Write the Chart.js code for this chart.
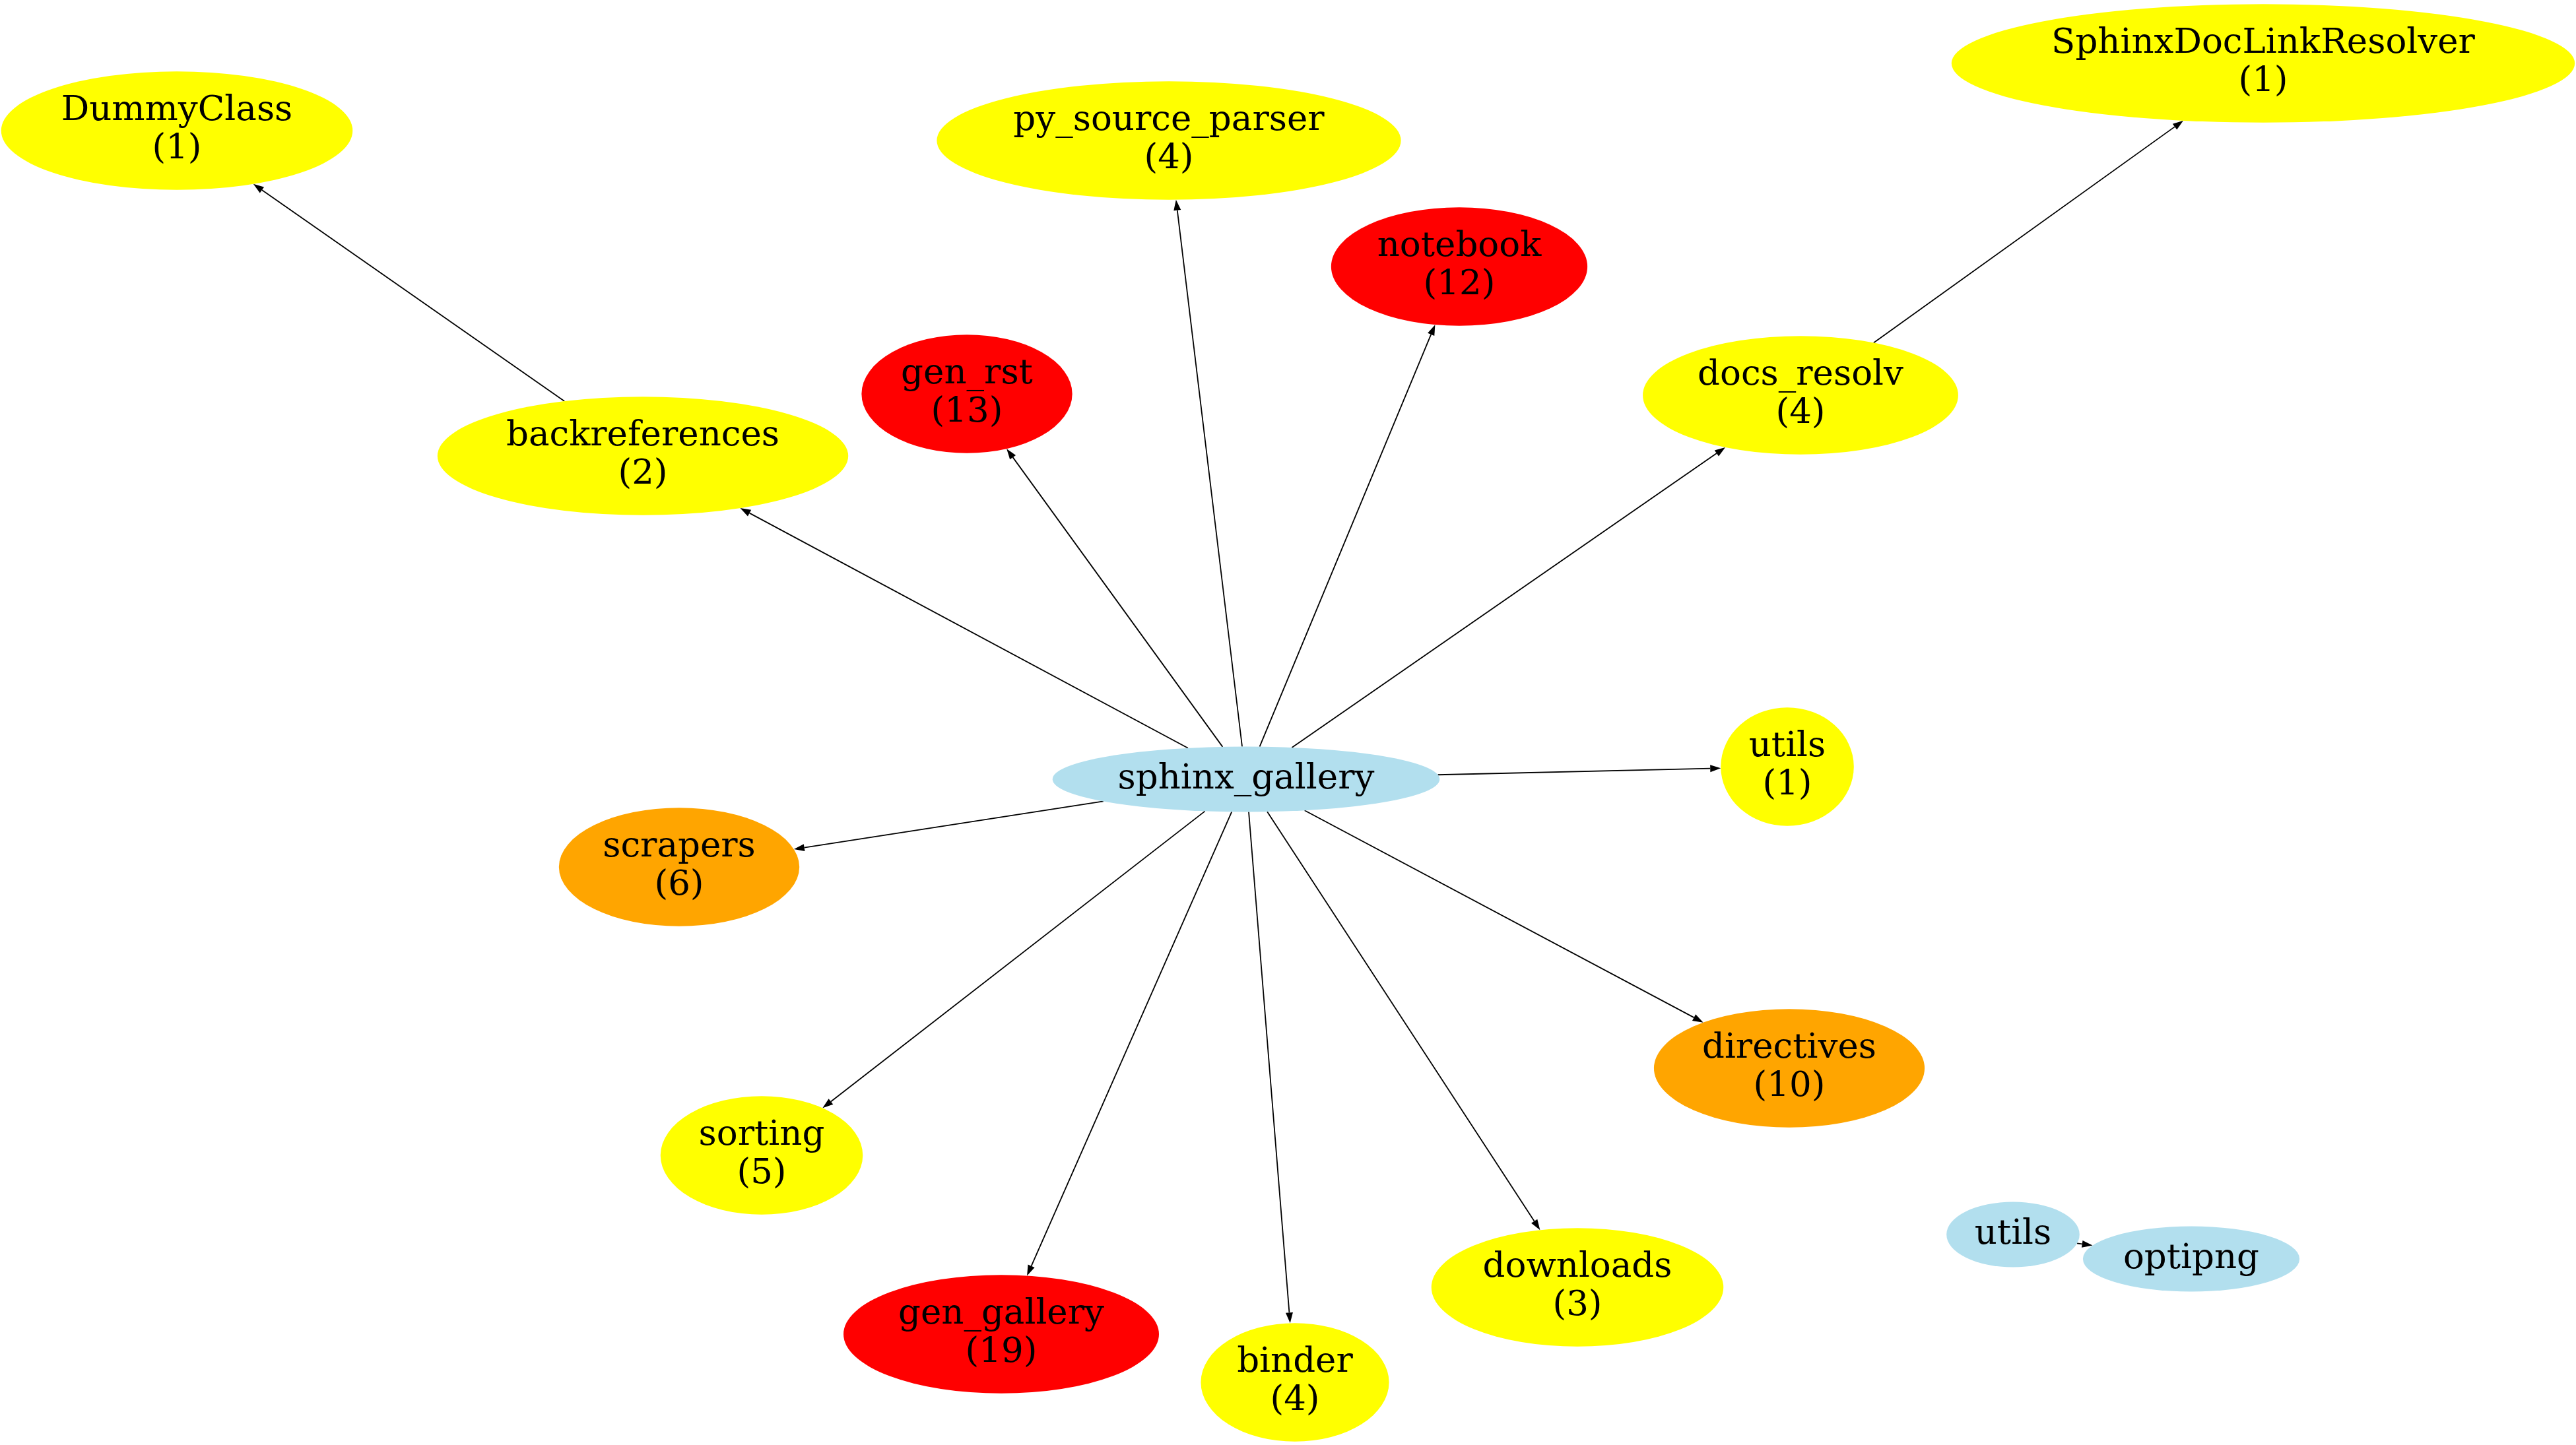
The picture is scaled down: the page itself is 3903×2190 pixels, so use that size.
<!DOCTYPE html>
<html lang="en">
<head>
  <meta charset="UTF-8" />
  <title>sphinx_gallery - module graph</title>
  <script src="https://cdn.jsdelivr.net/npm/chart.js"></script>
  <style>
    html, body { margin: 0; padding: 0; background: #ffffff; overflow: hidden; }
    #grafo { display: block; }
  </style>
</head>
<body>

  <canvas id="grafo" width="3903" height="2190"></canvas>

  <script>
    // nodes of the graph (layout coordinates)
    const nodeIds = ['sphinx_gallery', 'DummyClass', 'py_source_parser', 'notebook', 'gen_rst',
      'SphinxDocLinkResolver', 'docs_resolv', 'backreferences', 'utils_1', 'scrapers',
      'directives', 'sorting', 'gen_gallery', 'binder', 'downloads', 'utils', 'optipng'];
    const nodeNames = ['sphinx_gallery', 'DummyClass', 'py_source_parser', 'notebook', 'gen_rst',
      'SphinxDocLinkResolver', 'docs_resolv', 'backreferences', 'utils', 'scrapers',
      'directives', 'sorting', 'gen_gallery', 'binder', 'downloads', 'utils', 'optipng'];
    const nodeCounts = [null, 1, 4, 12, 13, 1, 4, 2, 1, 6, 10, 5, 19, 4, 3, null, null];
    const nodeX = [1888, 268, 1771, 2211, 1465, 3429, 2728, 974, 2708, 1029, 2711, 1154, 1517, 1962, 2390, 3050, 3320];
    const nodeY = [1181, 198, 213, 404, 597, 96, 599, 691, 1162, 1314, 1619, 1751, 2022, 2095, 1951, 1871, 1908];

    // edges
    const edgeFrom = ['sphinx_gallery', 'sphinx_gallery', 'sphinx_gallery', 'sphinx_gallery', 'sphinx_gallery',
      'sphinx_gallery', 'sphinx_gallery', 'sphinx_gallery', 'sphinx_gallery', 'sphinx_gallery',
      'sphinx_gallery', 'sphinx_gallery', 'backreferences', 'docs_resolv', 'utils'];
    const edgeTo = ['backreferences', 'gen_rst', 'py_source_parser', 'notebook', 'docs_resolv',
      'utils_1', 'scrapers', 'directives', 'sorting', 'gen_gallery',
      'binder', 'downloads', 'DummyClass', 'SphinxDocLinkResolver', 'optipng'];

    const FONT = '53px "DejaVu Serif"';
    const LINE_GAP = 58;

    function corNo(qtd) {
      if (qtd === null) return '#b2dfee';
      if (qtd >= 11) return '#ff0000';
      if (qtd >= 6) return '#ffa500';
      return '#ffff00';
    }

    function linhasNo(i) {
      return nodeCounts[i] === null ? [nodeNames[i]] : [nodeNames[i], '(' + nodeCounts[i] + ')'];
    }

    // ellipse size like graphviz: label box + margin, scaled by sqrt(2)
    function tamanhoNo(ctx, i) {
      const linhas = linhasNo(i);
      let w = 0;
      linhas.forEach(l => { w = Math.max(w, ctx.measureText(l).width); });
      return {
        rx: (w / 2 + 13) * Math.SQRT2,
        ry: (linhas.length * 57 / 2 + 6.5) * Math.SQRT2
      };
    }

    const grafoPlugin = {
      id: 'grafo',
      afterDatasetsDraw(chart) {
        const ctx = chart.ctx;
        const xs = chart.scales.x;
        const ys = chart.scales.y;
        ctx.save();
        ctx.font = FONT;

        const nos = {};
        nodeIds.forEach((id, i) => {
          const t = tamanhoNo(ctx, i);
          nos[id] = { i: i, cx: xs.getPixelForValue(nodeX[i]), cy: ys.getPixelForValue(nodeY[i]), rx: t.rx, ry: t.ry };
        });

        // edges, clipped to the ellipses, with arrowheads
        ctx.strokeStyle = '#000000';
        ctx.fillStyle = '#000000';
        ctx.lineWidth = 1.8;
        edgeFrom.forEach((de, k) => {
          const a = nos[de];
          const b = nos[edgeTo[k]];
          const dx = b.cx - a.cx;
          const dy = b.cy - a.cy;
          const len = Math.hypot(dx, dy);
          const ux = dx / len, uy = dy / len;
          const ta = 1 / Math.sqrt((ux / a.rx) ** 2 + (uy / a.ry) ** 2);
          const tb = 1 / Math.sqrt((ux / b.rx) ** 2 + (uy / b.ry) ** 2);
          const x0 = a.cx + ux * ta, y0 = a.cy + uy * ta;
          const x1 = b.cx - ux * tb, y1 = b.cy - uy * tb;
          const seta = 16, meia = 5.5;
          const bx = x1 - ux * seta, by = y1 - uy * seta;
          ctx.beginPath();
          ctx.moveTo(x0, y0);
          ctx.lineTo(bx, by);
          ctx.stroke();
          ctx.beginPath();
          ctx.moveTo(x1, y1);
          ctx.lineTo(bx - uy * meia, by + ux * meia);
          ctx.lineTo(bx + uy * meia, by - ux * meia);
          ctx.closePath();
          ctx.fill();
        });

        // nodes
        nodeIds.forEach(id => {
          const n = nos[id];
          ctx.beginPath();
          ctx.ellipse(n.cx, n.cy, n.rx, n.ry, 0, 0, Math.PI * 2);
          ctx.fillStyle = corNo(nodeCounts[n.i]);
          ctx.fill();

          const linhas = linhasNo(n.i);
          ctx.fillStyle = '#000000';
          ctx.textAlign = 'center';
          ctx.textBaseline = 'alphabetic';
          const base = linhas.length === 1 ? n.cy + 14 : n.cy + 13 - LINE_GAP / 2;
          linhas.forEach((l, j) => ctx.fillText(l, n.cx, base + j * LINE_GAP));
        });
        ctx.restore();
      }
    };

    const ctx = document.getElementById('grafo');
    const grafo = new Chart(ctx, {
      type: 'scatter',
      data: {
        datasets: [{
          label: 'nodes',
          data: nodeX.map((x, i) => ({ x: x, y: nodeY[i] })),
          pointRadius: 0,
          pointHoverRadius: 0
        }]
      },
      options: {
        responsive: false,
        animation: false,
        devicePixelRatio: 1,
        layout: { padding: 0 },
        plugins: {
          legend: { display: false },
          tooltip: { enabled: false }
        },
        scales: {
          x: { type: 'linear', min: 0, max: 3903, display: false },
          y: { type: 'linear', min: 0, max: 2190, reverse: true, display: false }
        }
      },
      plugins: [grafoPlugin]
    });
  </script>

</body>
</html>
